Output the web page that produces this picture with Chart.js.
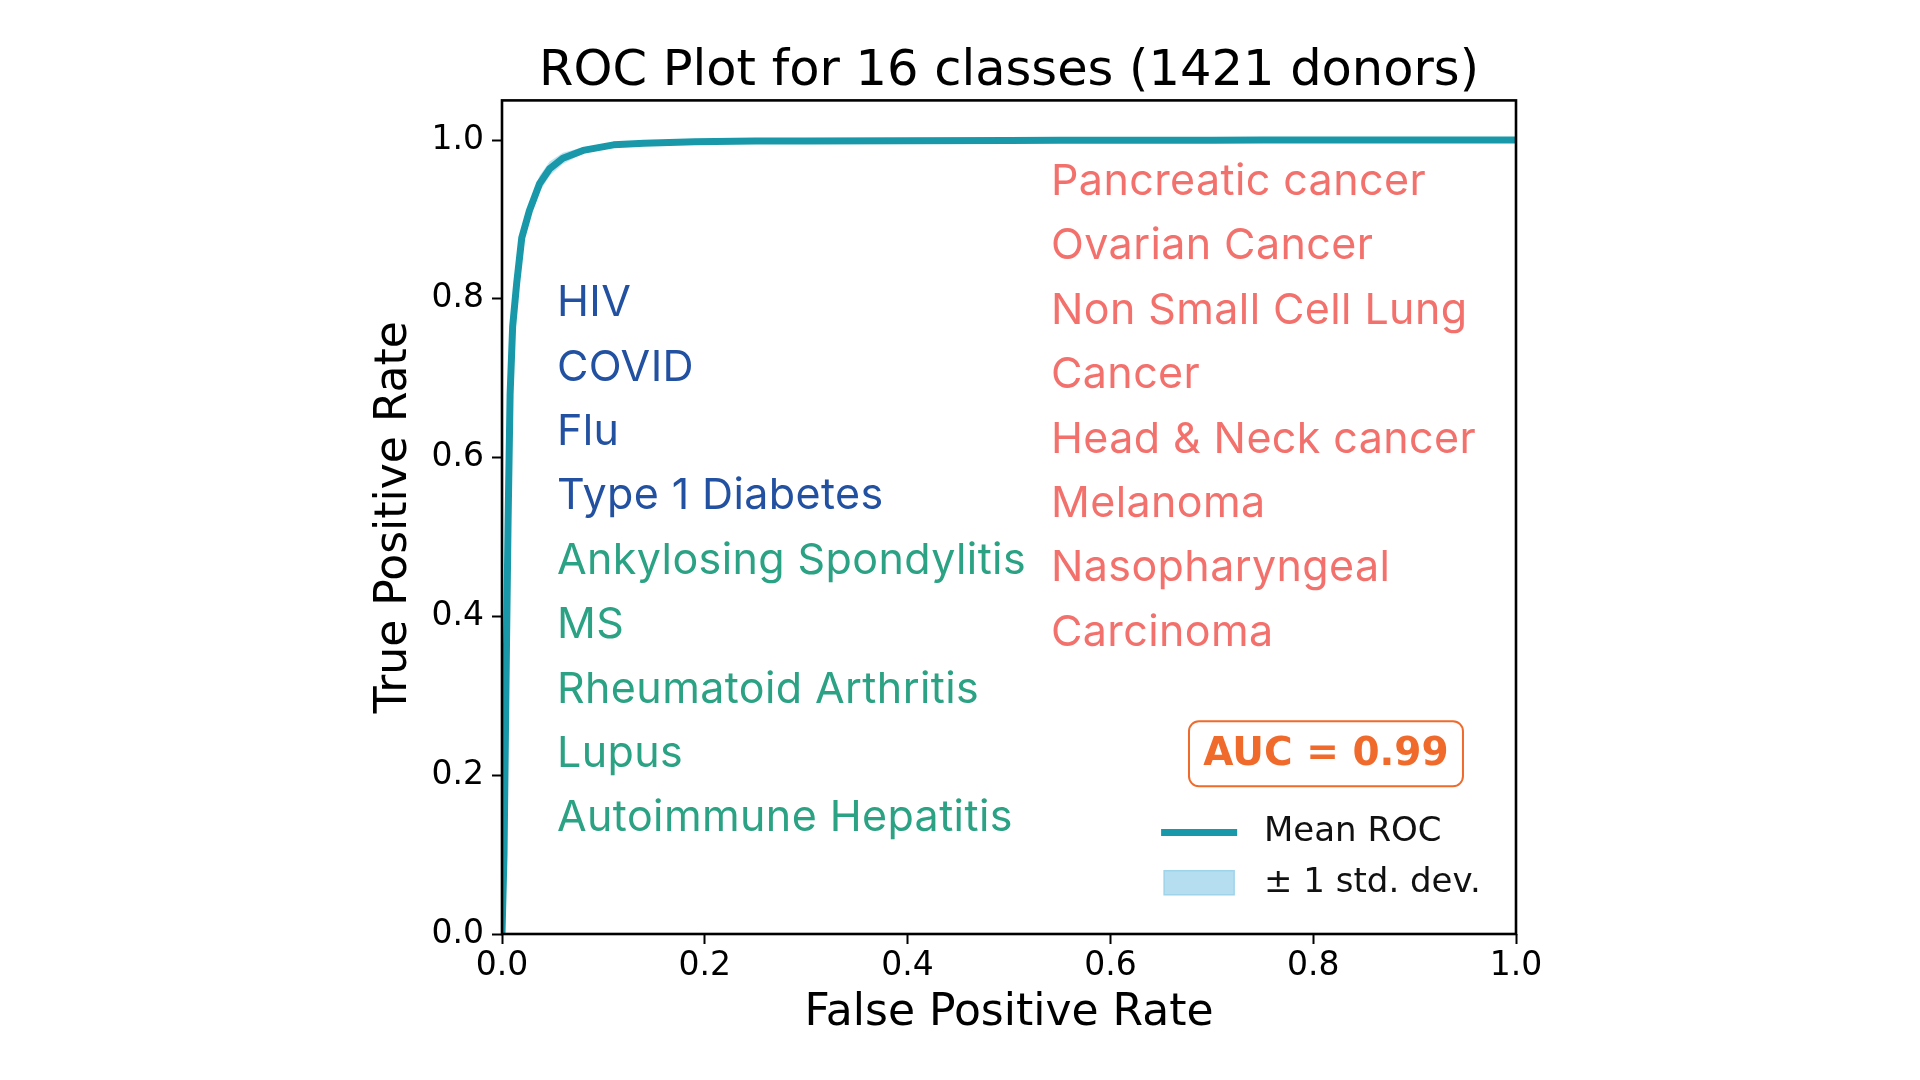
<!DOCTYPE html>
<html>
<head>
<meta charset="utf-8">
<script src="https://cdn.jsdelivr.net/npm/chart.js@4/dist/chart.umd.min.js"></script>
<style>
  html, body { margin: 0; padding: 0; background: #ffffff; }
  #wrap { width: 1920px; height: 1080px; }
</style>
</head>
<body>
<div id="wrap"><canvas id="c" width="1920" height="1080"></canvas></div>
<script>
// ---- data ----
const chartTitle = 'ROC Plot for 16 classes (1421 donors)';
const xAxisLabel = 'False Positive Rate';
const yAxisLabel = 'True Positive Rate';
const xTicks = [0, 0.2, 0.4, 0.6, 0.8, 1.0];
const yTicks = [0, 0.2, 0.4, 0.6, 0.8, 1.0];

const fpr = [0, 0.002, 0.004, 0.006, 0.008, 0.0105, 0.0145, 0.0195, 0.027, 0.037, 0.047, 0.06, 0.08, 0.11, 0.14, 0.19, 0.25, 0.3, 0.4, 0.5, 0.55, 0.6, 0.7, 0.75, 0.8, 0.9, 1.0];
const tprMean = [0, 0.10, 0.32, 0.52, 0.68, 0.765, 0.82, 0.877, 0.911, 0.945, 0.964, 0.977, 0.987, 0.994, 0.996, 0.998, 0.999, 0.999, 0.9993, 0.9995, 0.9997, 0.9997, 0.9998, 1.0, 1.0, 1.0, 1.0];
const tprUpper = [0, 0.12, 0.34, 0.54, 0.70, 0.78, 0.834, 0.887, 0.921, 0.955, 0.973, 0.984, 0.991, 0.997, 0.998, 0.999, 1.0, 1.0, 1.0, 1.0, 1.0, 1.0, 1.0, 1.0, 1.0, 1.0, 1.0];
const tprLower = [0, 0.08, 0.30, 0.50, 0.66, 0.75, 0.806, 0.867, 0.901, 0.935, 0.955, 0.970, 0.983, 0.991, 0.994, 0.997, 0.998, 0.998, 0.9986, 0.999, 0.9994, 0.9994, 0.9996, 1.0, 1.0, 1.0, 1.0];

const aucText = 'AUC = 0.99';
const meanLabel = 'Mean ROC';
const stdLabel = '\u00B1 1 std. dev.';

const leftClasses = ['HIV', 'COVID', 'Flu', 'Type 1 Diabetes', 'Ankylosing Spondylitis', 'MS', 'Rheumatoid Arthritis', 'Lupus', 'Autoimmune Hepatitis'];
const leftGroups = ['infection', 'infection', 'infection', 'infection', 'autoimmune', 'autoimmune', 'autoimmune', 'autoimmune', 'autoimmune'];
const rightClasses = ['Pancreatic cancer', 'Ovarian Cancer', 'Non Small Cell Lung', 'Cancer', 'Head & Neck cancer', 'Melanoma', 'Nasopharyngeal', 'Carcinoma'];

// ---- styles ----
const groupColors = { infection: '#2351a1', autoimmune: '#2aa283', cancer: '#f3716c' };
const lineColor = '#1898a8';
const bandFill = 'rgba(150, 208, 234, 0.6)';
const bandPatch = '#b5dff0';
const bandPatchEdge = '#9fd3ea';
const aucColor = '#ef6a2b';
const TICK_FONT = 'DejaVu Sans';
const CLASS_FONT = 'Inter';

const toXY = (xs, ys) => xs.map((x, i) => ({ x: x, y: ys[i] }));

const annotations = {
  id: 'annotations',
  afterDatasetsDraw(chart) {
    const ctx = chart.ctx;
    const a = chart.chartArea;
    const sx = chart.scales.x, sy = chart.scales.y;
    const px = v => sx.getPixelForValue(v);
    const py = v => sy.getPixelForValue(v);
    const lineStep = py(0) - py(0.0811);

    ctx.save();
    // frame (all four spines)
    ctx.strokeStyle = '#000';
    ctx.lineWidth = 2.6;
    ctx.strokeRect(a.left, a.top, a.right - a.left, a.bottom - a.top);

    // class labels
    ctx.font = '43px "' + CLASS_FONT + '"';
    try { ctx.letterSpacing = '0.4px'; } catch (e) {}
    ctx.textAlign = 'left';
    ctx.textBaseline = 'alphabetic';
    const lx = px(0.0542), ly0 = py(0.778);
    leftClasses.forEach((t, i) => {
      ctx.fillStyle = groupColors[leftGroups[i]];
      ctx.fillText(t, lx, ly0 + i * lineStep);
    });
    const rx = px(0.5414), ry0 = py(0.9308);
    rightClasses.forEach((t, i) => {
      ctx.fillStyle = groupColors.cancer;
      ctx.fillText(t, rx, ry0 + i * lineStep);
    });
    try { ctx.letterSpacing = '0px'; } catch (e) {}

    // AUC box
    const bx0 = px(0.6775), bx1 = px(0.9477), by0 = py(0.2680), by1 = py(0.1860);
    ctx.beginPath();
    if (ctx.roundRect) ctx.roundRect(bx0, by0, bx1 - bx0, by1 - by0, 10);
    else ctx.rect(bx0, by0, bx1 - bx0, by1 - by0);
    ctx.fillStyle = '#ffffff';
    ctx.fill();
    ctx.lineWidth = 2;
    ctx.strokeStyle = aucColor;
    ctx.stroke();
    ctx.fillStyle = aucColor;
    ctx.font = 'bold 39px "' + TICK_FONT + '"';
    ctx.textAlign = 'center';
    ctx.textBaseline = 'middle';
    ctx.fillText(aucText, (bx0 + bx1) / 2, (by0 + by1) / 2 + 1);

    // legend
    ctx.lineWidth = 7;
    ctx.strokeStyle = lineColor;
    ctx.beginPath();
    ctx.moveTo(px(0.650), py(0.1278));
    ctx.lineTo(px(0.725), py(0.1278));
    ctx.stroke();
    const pxa = px(0.653), pxb = px(0.722), pya = py(0.0797), pyb = py(0.0494);
    ctx.fillStyle = bandPatch;
    ctx.fillRect(pxa, pya, pxb - pxa, pyb - pya);
    ctx.lineWidth = 1.5;
    ctx.strokeStyle = bandPatchEdge;
    ctx.strokeRect(pxa, pya, pxb - pxa, pyb - pya);
    ctx.fillStyle = '#111';
    ctx.font = '34px "' + TICK_FONT + '"';
    ctx.textAlign = 'left';
    ctx.textBaseline = 'middle';
    ctx.fillText(meanLabel, px(0.7515), py(0.1278));
    ctx.fillText(stdLabel, px(0.7515), py(0.0646));
    ctx.restore();
  }
};

const tickCfg = {
  color: '#000',
  font: { family: TICK_FONT, size: 33 },
  callback: v => Number(v).toFixed(1)
};

new Chart(document.getElementById('c'), {
  type: 'line',
  data: {
    datasets: [
      {
        label: meanLabel,
        data: toXY(fpr, tprMean),
        borderColor: lineColor,
        borderWidth: 7,
        pointRadius: 0,
        tension: 0,
        fill: false,
        borderJoinStyle: 'round',
        borderCapStyle: 'butt'
      },
      {
        label: 'lower',
        data: toXY(fpr, tprLower),
        borderWidth: 0,
        borderColor: 'rgba(0,0,0,0)',
        pointRadius: 0,
        fill: false
      },
      {
        label: stdLabel,
        data: toXY(fpr, tprUpper),
        borderWidth: 0,
        borderColor: 'rgba(0,0,0,0)',
        backgroundColor: bandFill,
        pointRadius: 0,
        fill: 1
      }
    ]
  },
  options: {
    responsive: false,
    animation: false,
    devicePixelRatio: 1,
    layout: { padding: { left: 368, right: 404, top: 42, bottom: 40 } },
    plugins: {
      legend: { display: false },
      tooltip: { enabled: false },
      title: {
        display: true,
        text: chartTitle,
        fullSize: false,
        color: '#000',
        font: { family: TICK_FONT, size: 49.5, weight: 'normal', lineHeight: 1.2 },
        padding: { top: 0, bottom: -1 }
      }
    },
    scales: {
      x: {
        type: 'linear',
        min: 0,
        max: 1,
        border: { display: false },
        grid: { display: true, drawOnChartArea: false, drawTicks: true, tickLength: 10, tickColor: '#000', tickWidth: 2 },
        ticks: Object.assign({ padding: 3 }, tickCfg),
        afterBuildTicks: s => { s.ticks = xTicks.map(v => ({ value: v })); },
        afterFit: s => { s.height = 106; },
        title: { display: true, text: xAxisLabel, color: '#000', font: { family: TICK_FONT, size: 44, lineHeight: 1.2 }, padding: 0 }
      },
      y: {
        type: 'linear',
        min: 0,
        max: 1.05,
        border: { display: false },
        grid: { display: true, drawOnChartArea: false, drawTicks: true, tickLength: 10, tickColor: '#000', tickWidth: 2 },
        ticks: Object.assign({ padding: 8 }, tickCfg),
        afterBuildTicks: s => { s.ticks = yTicks.map(v => ({ value: v })); },
        afterFit: s => { s.width = 134; },
        title: { display: true, text: yAxisLabel, color: '#000', font: { family: TICK_FONT, size: 44, lineHeight: 1.2 }, padding: 0 }
      }
    }
  },
  plugins: [annotations]
});
</script>
</body>
</html>
